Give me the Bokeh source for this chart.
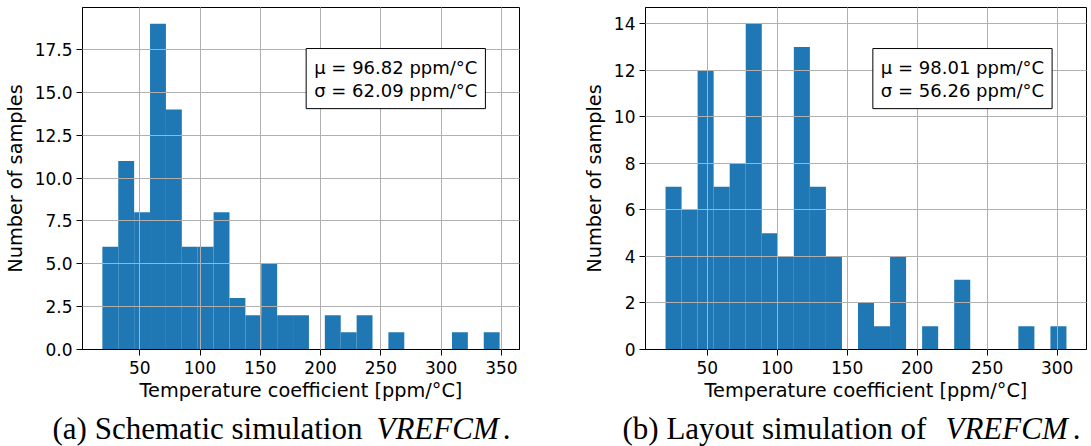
import numpy as np
from bokeh.plotting import figure
from bokeh.layouts import row, column
from bokeh.models import Range1d, FixedTicker, PrintfTickFormatter, Label
from bokeh.core.properties import value
from bokeh.embed import file_html
from bokeh.resources import INLINE

# ---------------- data ----------------
# (a) schematic simulation: 25 histogram bins between data min and max
a_min, a_max = 19.0, 348.5
a_counts = [6, 11, 8, 19, 14, 6, 6, 8, 3, 2, 5, 2, 2, 0, 2, 1, 2, 0, 1, 0, 0, 0, 1, 0, 1]
a_mu, a_sigma = 96.82, 62.09
a_xticks = [50, 100, 150, 200, 250, 300, 350]
a_yticks = [0, 2.5, 5, 7.5, 10, 12.5, 15, 17.5]

# (b) layout simulation
b_min, b_max = 20.25, 306.6
b_counts = [7, 6, 12, 7, 8, 14, 5, 4, 13, 7, 4, 0, 2, 1, 4, 0, 1, 0, 3, 0, 0, 0, 1, 0, 1]
b_mu, b_sigma = 98.01, 56.26
b_xticks = [50, 100, 150, 200, 250, 300]
b_yticks = [0, 2, 4, 6, 8, 10, 12, 14]

x_label = "Temperature coefficient [ppm/°C]"
y_label = "Number of samples"
cap_a = ("(a) Schematic simulation", "VREFCM", ".")
cap_b = ("(b) Layout simulation of", "VREFCM", ".")

BLUE = "#1f77b4"
FONT = "DejaVu Sans"


def hist_fig(vmin, vmax, counts, mu, sigma, xticks, yticks, yfmt, width, bl, br):
    counts = np.array(counts, dtype=float)
    edges = np.linspace(vmin, vmax, len(counts) + 1)
    rng = vmax - vmin
    x0, x1 = vmin - 0.05 * rng, vmax + 0.05 * rng
    y1 = counts.max() * 1.05
    p = figure(width=width, height=405, output_backend="svg", toolbar_location=None,
               x_range=Range1d(x0, x1), y_range=Range1d(0, y1),
               min_border_left=bl, min_border_right=br, min_border_top=7,
               min_border_bottom=56)
    p.quad(left=edges[:-1], right=edges[1:], bottom=0, top=counts,
           fill_color=BLUE, line_color=None)
    for ax in (p.xaxis[0], p.yaxis[0]):
        ax.major_label_text_font = FONT
        ax.major_label_text_font_size = "17px"
        ax.major_label_text_color = "black"
        ax.axis_label_text_font = FONT
        ax.axis_label_text_font_size = "19.3px"
        ax.axis_label_text_font_style = "normal"
        ax.axis_label_text_color = "black"
        ax.axis_line_color = "black"
        ax.major_tick_line_color = "black"
        ax.major_tick_out = 6
        ax.major_tick_in = 0
        ax.minor_tick_line_color = None
    p.xaxis.ticker = FixedTicker(ticks=xticks)
    p.yaxis.ticker = FixedTicker(ticks=yticks)
    p.yaxis.formatter = PrintfTickFormatter(format=yfmt)
    p.xaxis.axis_label = x_label
    p.yaxis.axis_label = y_label
    p.xaxis.major_label_standoff = 5
    p.xaxis.axis_label_standoff = 2
    p.yaxis.major_label_standoff = 4
    p.yaxis.axis_label_standoff = 5
    for g in (p.xgrid[0], p.ygrid[0]):
        g.grid_line_color = "#b0b0b0"
        g.grid_line_width = 1
        g.level = "guide"
    p.xgrid.ticker = FixedTicker(ticks=xticks)
    p.ygrid.ticker = FixedTicker(ticks=yticks)
    p.outline_line_color = "black"
    p.outline_line_alpha = 1
    p.outline_line_width = 1
    p.background_fill_color = "white"
    p.border_fill_color = "white"
    # stats box at axes fraction (0.922, 0.88), anchored top-right
    lab = Label(x=x0 + 0.922 * (x1 - x0), y=0.88 * y1, anchor="top_right",
                text=f"μ = {mu:.2f} ppm/°C\nσ = {sigma:.2f} ppm/°C",
                text_font=FONT, text_font_size="18px", text_color="black",
                text_line_height=1.1, text_align="center",
                background_fill_color="white", border_line_color="black",
                border_line_width=1, padding=8)
    p.add_layout(lab)
    return p


p1 = hist_fig(a_min, a_max, a_counts, a_mu, a_sigma, a_xticks, a_yticks, "%.1f", 560, 78, 41)
p2 = hist_fig(b_min, b_max, b_counts, b_mu, b_sigma, b_xticks, b_yticks, "%d", 531, 85, 5)

cap = figure(width=1091, height=41, output_backend="svg", toolbar_location=None,
             x_range=Range1d(0, 1091), y_range=Range1d(41, 0),
             min_border=0, outline_line_color=None)
cap.axis.visible = False
cap.grid.visible = False
SERIF = "Liberation Serif"
CS = "31px"
# caption pieces: (left of plain text, left of italic part, right edge of period)
for (pre, it, post), xs in ((cap_a, (52, 376, 510)), (cap_b, (622, 945, 1080))):
    cap.text(x=[xs[0]], y=[23], text=[pre], text_font=value(SERIF), text_font_size=CS,
             text_baseline="middle", text_align="left", text_color="black")
    cap.text(x=[xs[1]], y=[23], text=[it], text_font=value(SERIF), text_font_size=CS,
             text_font_style="italic", text_baseline="middle", text_align="left", text_color="black")
    cap.text(x=[xs[2]], y=[23], text=[post], text_font=value(SERIF), text_font_size=CS,
             text_baseline="middle", text_align="right", text_color="black")

layout = column(row(p1, p2, spacing=0), cap, spacing=0)
open("out.html", "w").write(file_html(layout, INLINE))
